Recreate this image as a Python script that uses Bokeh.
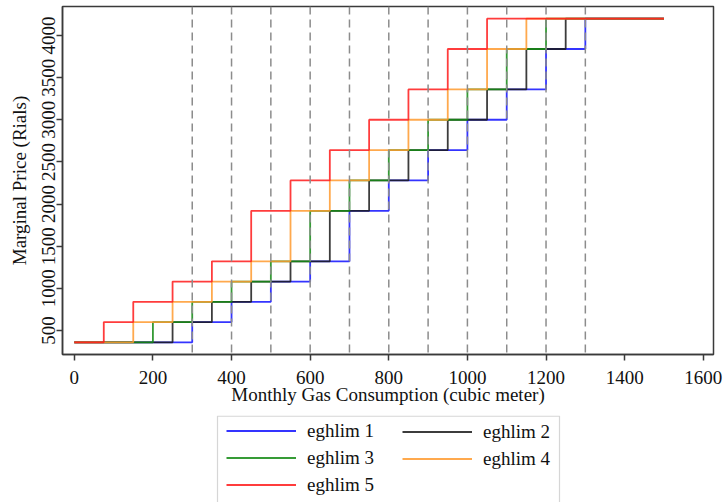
from bokeh.plotting import figure
from bokeh.models import Legend, LegendItem, Range1d, FixedTicker, Span, BoxAnnotation
from bokeh.layouts import column
from bokeh.embed import file_html
from bokeh.resources import INLINE

# Price levels (Rials) shared by all tariff schedules
price_levels = [360, 600, 840, 1080, 1320, 1920, 2280, 2640, 3000, 3360, 3840, 4200]

# Consumption breakpoints (cubic meter) where the marginal price steps up
breaks_e1 = [300, 400, 500, 600, 700, 800, 900, 1000, 1100, 1200, 1300]
breaks_e2 = [250, 350, 450, 550, 650, 750, 850, 950, 1050, 1150, 1250]
breaks_e3 = [200, 300, 400, 500, 600, 700, 800, 900, 1000, 1100, 1200]
breaks_e4 = [150, 250, 350, 450, 550, 650, 750, 850, 950, 1050, 1150]
breaks_e5 = [75, 150, 250, 350, 450, 550, 650, 750, 850, 950, 1050]

start_x = 0
end_x = 1500
dashed_x = [300, 400, 500, 600, 700, 800, 900, 1000, 1100, 1200, 1300]

series_names = ["eghlim 1", "eghlim 2", "eghlim 3", "eghlim 4", "eghlim 5"]
series_breaks = [breaks_e1, breaks_e2, breaks_e3, breaks_e4, breaks_e5]
series_colors = ["#1010ff", "#1a1a1a", "#138a13", "#ff9a2e", "#ff1a1a"]

x_ticks = [0, 200, 400, 600, 800, 1000, 1200, 1400, 1600]
y_ticks = [500, 1000, 1500, 2000, 2500, 3000, 3500, 4000]

FONT = "Liberation Serif"
FS = "19px"
LW = 1.8
LA = 0.85
NAN = float("nan")

# ---------------- main chart ----------------
p = figure(width=724, height=415, output_backend="svg", toolbar_location=None,
           x_range=Range1d(-30, 1626), y_range=Range1d(215, 4344),
           min_border_left=62, min_border_right=11, min_border_top=6, min_border_bottom=61)
p.background_fill_color = "white"
p.border_fill_color = "white"
p.outline_line_color = "#3a3a3a"
p.outline_line_width = 1.5
p.xgrid.visible = False
p.ygrid.visible = False

for xv in dashed_x:
    p.add_layout(Span(location=xv, dimension="height", line_color="#8c8c8c",
                      line_width=1.5, line_dash="8 5"))

for name, br, col in zip(series_names, series_breaks, series_colors):
    xs = [start_x] + br + [end_x]
    ys = price_levels + [price_levels[-1]]
    p.step(xs, ys, mode="after", line_color=col, line_width=LW, line_alpha=LA)

p.xaxis.ticker = FixedTicker(ticks=x_ticks)
p.yaxis.ticker = FixedTicker(ticks=y_ticks)
for ax in (p.xaxis[0], p.yaxis[0]):
    ax.major_label_text_font = FONT
    ax.major_label_text_font_size = FS
    ax.major_label_text_color = "#111111"
    ax.axis_label_text_font = FONT
    ax.axis_label_text_font_size = FS
    ax.axis_label_text_font_style = "normal"
    ax.axis_label_text_color = "#111111"
    ax.axis_line_color = "#3a3a3a"
    ax.axis_line_width = 1.5
    ax.major_tick_line_color = "#3a3a3a"
    ax.major_tick_line_width = 1.5
    ax.major_tick_out = 6
    ax.major_tick_in = 0
    ax.minor_tick_out = 0
    ax.minor_tick_in = 0
p.xaxis.axis_label = "Monthly Gas Consumption (cubic meter)"
p.yaxis.axis_label = "Marginal Price (Rials)"
p.yaxis.major_label_orientation = "vertical"
p.xaxis.major_label_standoff = 10
p.yaxis.major_label_standoff = 1
p.xaxis.axis_label_standoff = -3
p.yaxis.axis_label_standoff = 10

# ---------------- legend strip ----------------
# same frame columns as the chart; x data units equal page pixels here
q = figure(width=724, height=87, output_backend="svg", toolbar_location=None,
           x_range=Range1d(62, 713), y_range=Range1d(0, 87),
           x_axis_location=None, y_axis_location=None,
           min_border_left=62, min_border_right=11, min_border_top=0, min_border_bottom=0)
q.xgrid.visible = False
q.ygrid.visible = False
q.outline_line_color = None
q.background_fill_color = "white"
q.border_fill_color = "white"

q.add_layout(BoxAnnotation(left=217, right=559, top=86.4, bottom=-10,
                           fill_alpha=0, line_color="#777777", line_width=1.2))

key_renderers = {}
for name, col in zip(series_names, series_colors):
    key_renderers[name] = q.line(x=[NAN], y=[NAN], line_color=col, line_width=LW, line_alpha=LA)

common = dict(margin=0, padding=0, spacing=5, glyph_width=70, glyph_height=21,
              label_height=21, label_standoff=11, label_text_font=FONT,
              label_text_font_size=FS, label_text_color="#111111",
              border_line_color=None, background_fill_alpha=0)

left_names = ["eghlim 1", "eghlim 3", "eghlim 5"]
right_names = ["eghlim 2", "eghlim 4"]
leg_left = Legend(items=[LegendItem(label=n, renderers=[key_renderers[n]]) for n in left_names],
                  location=(164, 87 - 7.5 - 73), **common)
leg_right = Legend(items=[LegendItem(label=n, renderers=[key_renderers[n]]) for n in right_names],
                   location=(340, 87 - 7.5 - 47), **common)
q.add_layout(leg_left, "center")
q.add_layout(leg_right, "center")

layout = column(p, q, spacing=0)
open("out.html", "w").write(file_html(layout, INLINE))
